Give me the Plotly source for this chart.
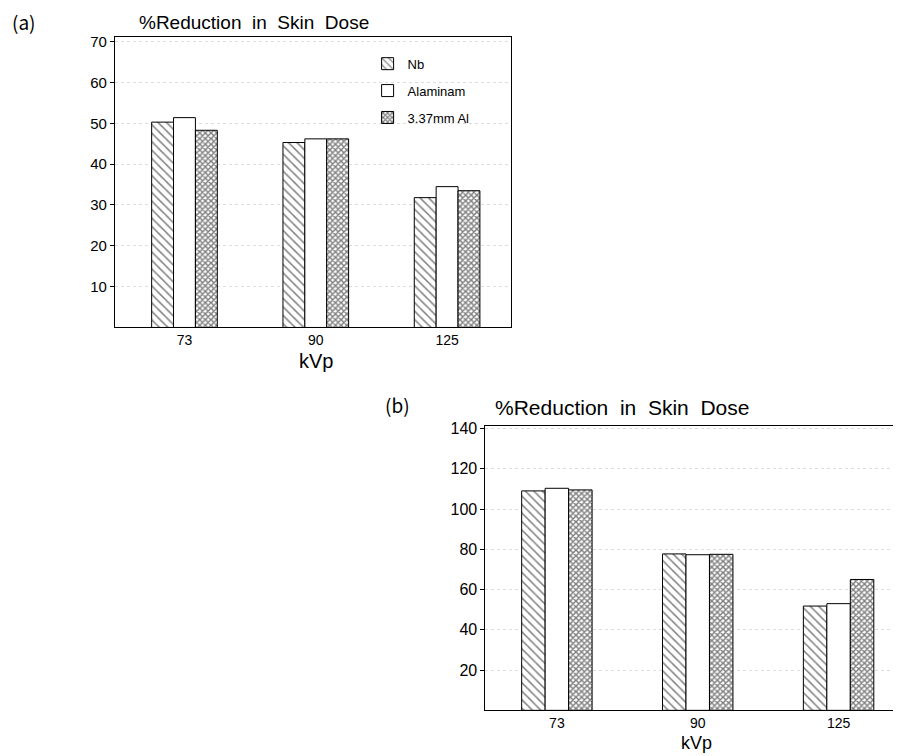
import plotly.graph_objects as go

categories = ["73", "90", "125"]
series_names = ["Nb", "Alaminam", "3.37mm Al"]

# Panel (a)
a_nb = [50.3, 45.3, 31.8]
a_al = [51.4, 46.2, 34.5]
a_337 = [48.3, 46.2, 33.5]

# Panel (b)
b_nb = [109.0, 77.7, 51.8]
b_al = [110.3, 77.3, 53.0]
b_337 = [109.5, 77.5, 65.0]

a_ticks = [10, 20, 30, 40, 50, 60, 70]
b_ticks = [20, 40, 60, 80, 100, 120, 140]

patterns = [
    dict(shape="\\", size=6, solidity=0.25, fgcolor="black", bgcolor="white", fillmode="overlay"),
    dict(shape="", fgcolor="black", bgcolor="white"),
    dict(shape="x", size=4, solidity=0.6, fgcolor="black", bgcolor="white", fillmode="overlay"),
]

FONT = "Liberation Sans, Arial, sans-serif"
OX, OY = 8, 10  # observed page offset of the figure
W, H = 901 - OX, 756 - OY


def px(x):
    return (x - OX) / W


def py(y):
    return 1 - (y - OY) / H


fig = go.Figure()
for i, (name, vals) in enumerate(zip(series_names, [a_nb, a_al, a_337])):
    fig.add_trace(go.Bar(
        x=categories, y=vals, name=name, xaxis="x", yaxis="y",
        marker=dict(color="white", line=dict(color="black", width=1), pattern=patterns[i]),
        legendgroup=name, showlegend=True,
    ))
for i, (name, vals) in enumerate(zip(series_names, [b_nb, b_al, b_337])):
    fig.add_trace(go.Bar(
        x=categories, y=vals, name=name, xaxis="x2", yaxis="y2",
        marker=dict(color="white", line=dict(color="black", width=1), pattern=patterns[i]),
        legendgroup=name, showlegend=False,
    ))

axis_common = dict(showline=True, linecolor="black", linewidth=1, mirror=True)
grid = dict(showgrid=True, gridcolor="#dddddd", griddash="dot", gridwidth=1)

fig.update_layout(
    width=W, height=H,
    margin=dict(l=0, r=0, t=0, b=0),
    paper_bgcolor="white", plot_bgcolor="white",
    barmode="group", bargap=0.5, bargroupgap=0,
    font=dict(family=FONT, color="black"),
    xaxis=dict(domain=[px(115), px(512)], anchor="y", range=[-0.53, 2.49],
               showgrid=False, ticks="", tickfont=dict(family=FONT, size=14, color="black"),
               **axis_common),
    yaxis=dict(domain=[py(326), py(33)], anchor="x", range=[0, 71.2],
               tickvals=a_ticks, ticks="outside", ticklen=4, tickcolor="black",
               tickfont=dict(family=FONT, size=15, color="black"),
               zeroline=False, **grid, **axis_common),
    xaxis2=dict(domain=[px(486), 1.0], anchor="y2", range=[-0.507, 2.436],
                showgrid=False, ticks="",
                tickfont=dict(family=FONT, size=14, color="black"),
                **axis_common),
    yaxis2=dict(domain=[py(712), py(425)], anchor="x2", range=[0, 141.4],
                tickvals=b_ticks, ticks="outside", ticklen=4, tickcolor="black",
                tickfont=dict(family=FONT, size=16, color="black"),
                zeroline=False, **grid, **axis_common),
    legend=dict(x=px(368), y=py(45), xanchor="left", yanchor="top",
                bgcolor="rgba(0,0,0,0)", font=dict(family=FONT, size=13, color="black"),
                traceorder="grouped", tracegroupgap=7),
    showlegend=True,
)

annotations = [
    dict(text="(a)", x=px(10), y=py(18), xref="paper", yref="paper",
         xanchor="left", yanchor="middle", showarrow=False,
         font=dict(family="Noto Sans CJK JP, DejaVu Sans", size=19)),
    dict(text="%Reduction  in  Skin  Dose", x=px(137), y=py(18.5), xref="paper", yref="paper",
         xanchor="left", yanchor="middle", showarrow=False,
         font=dict(family=FONT, size=19)),
    dict(text="kVp", x=px(316), y=py(360), xref="paper", yref="paper",
         xanchor="center", yanchor="middle", showarrow=False,
         font=dict(family=FONT, size=20)),
    dict(text="(b)", x=px(383), y=py(404), xref="paper", yref="paper",
         xanchor="left", yanchor="middle", showarrow=False,
         font=dict(family="Noto Sans CJK JP, DejaVu Sans", size=19)),
    dict(text="%Reduction  in  Skin  Dose", x=px(494), y=py(407), xref="paper", yref="paper",
         xanchor="left", yanchor="middle", showarrow=False,
         font=dict(family=FONT, size=21)),
    dict(text="kVp", x=px(697), y=py(745), xref="paper", yref="paper",
         xanchor="center", yanchor="middle", showarrow=False,
         font=dict(family=FONT, size=18)),
]
fig.update_layout(annotations=annotations)

fig.write_html("out.html")
